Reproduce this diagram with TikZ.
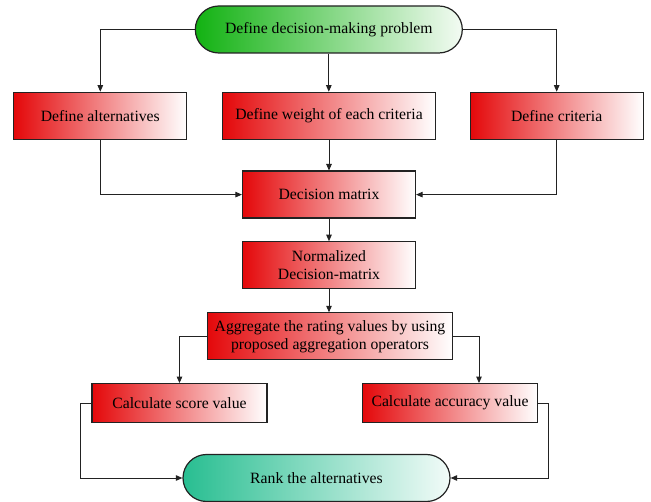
\documentclass[tikz,border=0pt]{standalone}
\usepackage{fontspec}
\setmainfont{Liberation Serif}
\usetikzlibrary{arrows.meta}
\definecolor{boxred}{RGB}{228,8,10}
\definecolor{topgreen}{RGB}{18,178,18}
\definecolor{rankgreen}{RGB}{40,190,145}
\definecolor{edgecol}{RGB}{34,34,34}
\begin{document}
\begin{tikzpicture}[x=1pt,y=-1pt,
  font=\fontsize{15.7}{17.7}\selectfont,
  redbox/.style={draw=edgecol, line width=1.2pt, left color=boxred, right color=white,
    align=center, inner sep=0pt, minimum height=47pt},
  term/.style={draw=edgecol, line width=1.2pt, right color=white!95!topgreen,
    align=center, inner sep=0pt, minimum height=47pt, minimum width=267pt, rounded corners=23.5pt},
  conn/.style={draw=edgecol, line width=0.9pt},
  arr/.style={conn, -{Triangle[length=6.5pt,width=5.5pt]}}
]
\useasboundingbox (0,0) rectangle (651,502);

\node[term, left color=topgreen] (top) at (328.8,29.5) {Define decision-making problem};
\node[redbox, minimum width=173pt] (alt) at (100.3,115.8) {Define alternatives};
\node[redbox, minimum width=213pt] (wgt) at (329,115.8) {Define weight of each criteria};
\node[redbox, minimum width=173pt] (crit) at (556.7,115.8) {Define criteria};
\node[redbox, minimum width=173pt] (dm) at (329,194.6) {Decision matrix};
\node[redbox, minimum width=173pt] (norm) at (329,265.3) {Normalized\\Decision-matrix};
\node[redbox, minimum width=245pt] (agg) at (330,336.4) {Aggregate the rating values by using\\proposed aggregation operators};
\node[redbox, minimum width=175pt, minimum height=39pt] (score) at (179.5,403.2) {Calculate score value};
\node[redbox, minimum width=175pt, minimum height=39pt] (acc) at (450,403.2) {Calculate accuracy value};
\node[term, left color=rankgreen, right color=white!94!rankgreen] (rank) at (316.5,478) {Rank the alternatives};

\draw[arr] (top.west) -| (alt.north);
\draw[arr] (top.east) -| (crit.north);
\draw[arr] (top.south) -- (top.south |- wgt.north);
\draw[arr] (alt.south) |- (dm.west);
\draw[arr] (crit.south) |- (dm.east);
\draw[arr] (wgt.south) -- (dm.north);
\draw[arr] (dm.south) -- (norm.north);
\draw[arr] (norm.south) -- (norm.south |- agg.north);
\draw[arr] (agg.west) -| (score.north);
\draw[arr] (agg.east) -| ([xshift=29pt]acc.north);
\draw[arr] (score.west) -- ++(-11,0) |- (rank.west);
\draw[arr] (acc.east) -- ++(10.7,0) |- (rank.east);
\end{tikzpicture}
\end{document}
